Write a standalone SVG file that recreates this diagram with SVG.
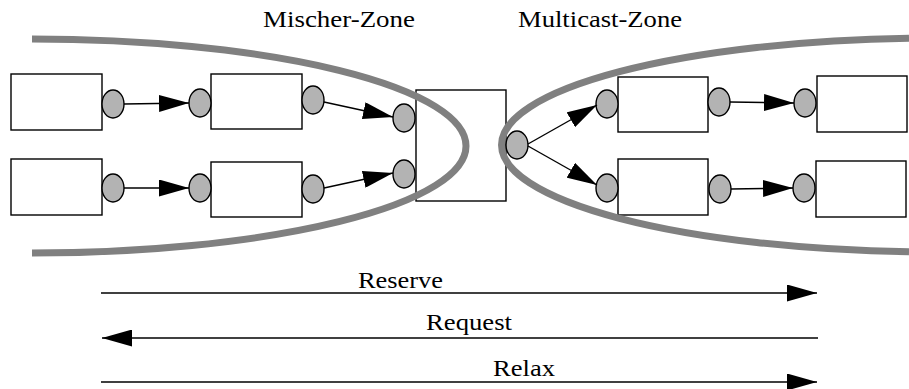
<svg xmlns="http://www.w3.org/2000/svg" width="909" height="389" viewBox="0 0 909 389">
  <style>
    .box { fill: #ffffff; stroke: #000000; stroke-width: 1.4; }
    .port { fill: #b3b3b3; stroke: #000000; stroke-width: 1.4; }
    .zone { fill: none; stroke: #808080; stroke-width: 7; }
    .link { fill: none; stroke: #000000; stroke-width: 1.4; marker-end: url(#head); }
    .label { font-family: "Liberation Serif", "Times New Roman", serif; font-size: 23px; fill: #000000; }
  </style>
  <defs>
    <marker id="head" viewBox="0 0 30 17" refX="30" refY="8.5" markerWidth="30" markerHeight="17" markerUnits="userSpaceOnUse" orient="auto">
      <path d="M0,0 L30,8.5 L0,17 Z" fill="#000000"/>
    </marker>
  </defs>

  <rect width="909" height="389" fill="#ffffff"/>

  <!-- zone titles -->
  <text class="label" x="263" y="27" textLength="152" lengthAdjust="spacingAndGlyphs">Mischer-Zone</text>
  <text class="label" x="518" y="27" textLength="164" lengthAdjust="spacingAndGlyphs">Multicast-Zone</text>

  <!-- processing nodes -->
  <g id="node-a1"><rect class="box" x="11" y="74" width="91" height="56"/><ellipse class="port" cx="113" cy="104" rx="11" ry="14"/></g>
  <g id="node-a2"><rect class="box" x="211" y="74" width="91" height="55"/><ellipse class="port" cx="200" cy="103" rx="11" ry="14"/><ellipse class="port" cx="313" cy="100" rx="11" ry="14"/></g>
  <g id="node-b1"><rect class="box" x="11" y="159" width="91" height="56"/><ellipse class="port" cx="113" cy="188" rx="11" ry="14"/></g>
  <g id="node-b2"><rect class="box" x="211" y="162" width="91" height="55"/><ellipse class="port" cx="200" cy="188" rx="11" ry="14"/><ellipse class="port" cx="313" cy="189" rx="11" ry="14"/></g>
  <g id="mixer"><rect class="box" x="416" y="90" width="90" height="111"/><ellipse class="port" cx="404" cy="118" rx="11" ry="14"/><ellipse class="port" cx="404" cy="174" rx="11" ry="14"/><ellipse class="port" cx="517" cy="145" rx="11" ry="14"/></g>
  <g id="node-c1"><rect class="box" x="618" y="77" width="90" height="55"/><ellipse class="port" cx="607" cy="104" rx="11" ry="14"/><ellipse class="port" cx="719" cy="102" rx="11" ry="14"/></g>
  <g id="node-c2"><rect class="box" x="618" y="159" width="90" height="56"/><ellipse class="port" cx="607" cy="188" rx="11" ry="14"/><ellipse class="port" cx="720" cy="189" rx="11" ry="14"/></g>
  <g id="node-d1"><rect class="box" x="817" y="76" width="90" height="56"/><ellipse class="port" cx="805" cy="103" rx="11" ry="14"/></g>
  <g id="node-d2"><rect class="box" x="816" y="161" width="90" height="56"/><ellipse class="port" cx="804" cy="188" rx="11" ry="14"/></g>

  <!-- zone outlines -->
  <g id="zones">
    <path class="zone" d="M32,39 A434,107 0 0 1 32,253"/>
    <path class="zone" d="M909,38.2 A434,107 0 0 0 909,251.8"/>
  </g>

  <!-- connectors -->
  <g id="connectors">
    <line class="link" x1="124" y1="104" x2="189" y2="103"/>
    <line class="link" x1="324" y1="102" x2="393" y2="117"/>
    <line class="link" x1="124" y1="188" x2="189" y2="188"/>
    <line class="link" x1="324" y1="188" x2="393" y2="173"/>
    <line class="link" x1="528" y1="144" x2="597" y2="105"/>
    <line class="link" x1="528" y1="146" x2="597" y2="185"/>
    <line class="link" x1="730" y1="102" x2="794" y2="103"/>
    <line class="link" x1="731" y1="189" x2="793" y2="188"/>

    <line class="link" x1="101" y1="293" x2="817" y2="293"/>
    <line class="link" x1="818" y1="338" x2="102" y2="338"/>
    <line class="link" x1="101" y1="382" x2="817" y2="382"/>
  </g>

  <!-- signal labels -->
  <text class="label" x="358" y="288" textLength="85" lengthAdjust="spacingAndGlyphs">Reserve</text>
  <text class="label" x="426" y="330" textLength="86" lengthAdjust="spacingAndGlyphs">Request</text>
  <text class="label" x="493" y="376" textLength="62" lengthAdjust="spacingAndGlyphs">Relax</text>
</svg>
